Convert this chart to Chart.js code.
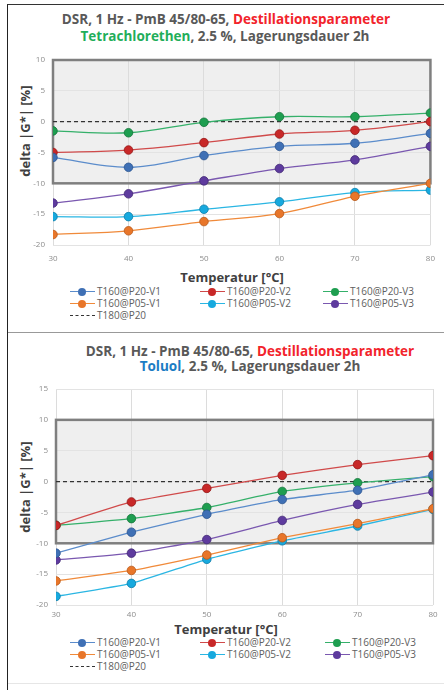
<!DOCTYPE html>
<html>
<head>
<meta charset="utf-8">
<script src="https://cdn.jsdelivr.net/npm/chart.js@4.4.1/dist/chart.umd.min.js"></script>
<style>
  body { margin: 0; background: #fff; font-family: "Open Sans", sans-serif; }
  #page { position: relative; width: 444px; height: 690px; overflow: hidden; }
  .frame { position: absolute; left: 7px; top: 4px; width: 440px; height: 690px;
           border-left: 1.5px solid #222; border-top: 1.5px solid #333; }
  .sep { position: absolute; left: 8px; width: 436px; height: 0; }
  .title { position: absolute; font-weight: bold; font-size: 13.5px; color: #595959;
           white-space: nowrap; transform: translateX(-50%); line-height: 16px; }
  .red { color: #f2232b; }
  .green { color: #1fae5a; }
  .blue { color: #1b7cc4; }
  .ytitle { position: absolute; font-weight: bold; font-size: 13px; color: #404040;
            white-space: nowrap; transform: translate(-50%, -50%) rotate(-90deg); }
  .xtitle { position: absolute; font-weight: bold; font-size: 13px; color: #404040;
            white-space: nowrap; transform: translate(-50%, -50%); }
  canvas { position: absolute; }
  .leg { position: absolute; font-size: 10px; color: #606060; white-space: nowrap;
         line-height: 12px; }
  .leg .mk { position: absolute; top: 5px; width: 25px; height: 0; border-top: 1px solid; }
  .leg .dot { position: absolute; left: 8px; top: -4.5px; width: 8px; height: 8px; border-radius: 50%; }
  .leg .txt { position: absolute; left: 27px; top: -1px; }
</style>
</head>
<body>
<div id="page">
  <div class="frame"></div>
  <div class="sep" style="top:332px;border-top:1.5px solid #999;"></div>
  <div class="sep" style="top:683px;border-top:1px solid #e6e6e6;"></div>

  <div class="title" style="left:226px;top:11px;">DSR, 1 Hz - PmB 45/80-65, <span class="red">Destillationsparameter</span></div>
  <div class="title" style="left:225px;top:28px;"><span class="green">Tetrachlorethen</span>, 2.5 %, Lagerungsdauer 2h</div>
  <div class="ytitle" style="left:25px;top:131px;">delta |G*| [%]</div>
  <div class="xtitle" style="left:232px;top:277px;">Temperatur [°C]</div>
  <canvas id="c1" width="436" height="222" style="left:8px;top:44px;"></canvas>
  <div id="leg1"></div>

  <div class="title" style="left:250px;top:343px;">DSR, 1 Hz - PmB 45/80-65, <span class="red">Destillationsparameter</span></div>
  <div class="title" style="left:250px;top:358px;"><span class="blue">Toluol</span>, 2.5 %, Lagerungsdauer 2h</div>
  <div class="ytitle" style="left:25px;top:487px;">delta |G*| [%]</div>
  <div class="xtitle" style="left:226px;top:629px;">Temperatur [°C]</div>
  <canvas id="c2" width="436" height="248" style="left:8px;top:372px;"></canvas>
  <div id="leg2"></div>
</div>

<script>
const temperaturen = [30, 40, 50, 60, 70, 80];
const serienNamen = ['T160@P20-V1', 'T160@P20-V2', 'T160@P20-V3', 'T160@P05-V1', 'T160@P05-V2', 'T160@P05-V3'];
const referenzName = 'T180@P20';
const referenzWerte = [0, 0, 0, 0, 0, 0];

// Tetrachlorethen
const tetra_P20_V1 = [-5.8, -7.4, -5.5, -4.0, -3.5, -1.9];
const tetra_P20_V2 = [-5.0, -4.6, -3.4, -2.0, -1.4, 0.0];
const tetra_P20_V3 = [-1.5, -1.8, -0.1, 0.8, 0.8, 1.4];
const tetra_P05_V1 = [-18.3, -17.7, -16.2, -14.9, -12.1, -10.0];
const tetra_P05_V2 = [-15.4, -15.4, -14.2, -13.0, -11.5, -11.1];
const tetra_P05_V3 = [-13.2, -11.7, -9.6, -7.6, -6.2, -4.0];

// Toluol
const tol_P20_V1 = [-11.6, -8.2, -5.3, -2.9, -1.4, 1.1];
const tol_P20_V2 = [-7.1, -3.3, -1.1, 1.0, 2.75, 4.2];
const tol_P20_V3 = [-7.1, -6.0, -4.2, -1.6, -0.2, 0.8];
const tol_P05_V1 = [-16.1, -14.4, -11.9, -9.1, -6.8, -4.4];
const tol_P05_V2 = [-18.6, -16.5, -12.6, -9.6, -7.2, -4.5];
const tol_P05_V3 = [-12.7, -11.6, -9.4, -6.3, -3.7, -1.7];

const yTicks1 = [-20, 10];
const yTicks2 = [-20, 15];
const boxBereich = [-10, 10];

const linienFarben = ['#5b8ccb', '#d04a4a', '#35b06a', '#f08a3a', '#2bb6e3', '#7a58b0'];
const punktFarben = ['#3f70b5', '#c82828', '#1e9e50', '#e8762a', '#17a9de', '#5e3b9e'];
const punktRand = ['#2c5590', '#961818', '#14733a', '#b85818', '#0f7ea8', '#432a75'];

function datensaetze(reihen, tension) {
    const ds = reihen.map((werte, i) => ({
        label: serienNamen[i],
        data: werte.map((v, k) => ({ x: temperaturen[k], y: v })),
        borderColor: linienFarben[i],
        borderWidth: 1.3,
        backgroundColor: punktFarben[i],
        pointBorderColor: punktRand[i],
        pointBorderWidth: 0.8,
        pointRadius: 4.3,
        tension: tension,
        order: 1
    }));
    ds.push({
        label: referenzName,
        data: referenzWerte.map((v, k) => ({ x: temperaturen[k], y: v })),
        borderColor: '#333',
        borderWidth: 1.2,
        borderDash: [4, 3],
        pointRadius: 0,
        order: 2
    });
    return ds;
}

const boxPlugin = {
    id: 'graueBox',
    beforeDraw(chart) {
        const { ctx, scales: { x, y } } = chart;
        ctx.save();
        ctx.fillStyle = '#efefef';
        ctx.fillRect(x.getPixelForValue(30), y.getPixelForValue(boxBereich[1]),
            x.getPixelForValue(80) - x.getPixelForValue(30),
            y.getPixelForValue(boxBereich[0]) - y.getPixelForValue(boxBereich[1]));
        ctx.restore();
    },
    beforeDatasetsDraw(chart) {
        const { ctx, scales: { x, y } } = chart;
        ctx.save();
        ctx.strokeStyle = '#7f7f7f';
        ctx.lineWidth = 2.5;
        ctx.strokeRect(x.getPixelForValue(30), y.getPixelForValue(boxBereich[1]),
            x.getPixelForValue(80) - x.getPixelForValue(30),
            y.getPixelForValue(boxBereich[0]) - y.getPixelForValue(boxBereich[1]));
        ctx.restore();
    }
};

function zeichne(id, reihen, yRange, opts) {
    const ctx = document.getElementById(id).getContext('2d');
    return new Chart(ctx, {
        type: 'line',
        data: { datasets: datensaetze(reihen, opts.tension) },
        options: {
            responsive: false,
            animation: false,
            layout: { padding: { top: opts.padTop, right: 11, left: 0, bottom: 0 } },
            plugins: { legend: { display: false }, tooltip: { enabled: false } },
            scales: {
                x: {
                    type: 'linear', min: 30, max: 80,
                    ticks: { stepSize: 10, color: '#8c8c8c', font: { size: 8, family: 'Open Sans' }, padding: opts.xPad },
                    grid: { color: '#dcdcdc', drawTicks: false },
                    border: { display: false },
                    afterFit(s) { s.height = opts.xHeight; }
                },
                y: {
                    min: yRange[0], max: yRange[1],
                    ticks: { stepSize: 5, color: '#8c8c8c', font: { size: 8, family: 'Open Sans' }, padding: 8 },
                    grid: { color: '#e3e3e3', drawTicks: false },
                    border: { display: false },
                    afterFit(s) { s.width = opts.yWidth; }
                }
            }
        },
        plugins: [boxPlugin]
    });
}

function legende(id, top, spalten) {
    const el = document.getElementById(id);
    let html = '';
    serienNamen.forEach((name, i) => {
        const row = Math.floor(i / 3), col = i % 3;
        html += '<div class="leg" style="left:' + spalten[col] + 'px;top:' + (top + row * 12) + 'px;">' +
            '<span class="mk" style="border-color:' + linienFarben[i] + '"><span class="dot" style="background:' + punktFarben[i] + '"></span></span>' +
            '<span class="txt">' + name + '</span></div>';
    });
    html += '<div class="leg" style="left:' + spalten[0] + 'px;top:' + (top + 24) + 'px;">' +
        '<span class="mk" style="border-top:1.3px dashed #333;"></span><span class="txt">' + referenzName + '</span></div>';
    el.innerHTML = html;
}

zeichne('c1', [tetra_P20_V1, tetra_P20_V2, tetra_P20_V3, tetra_P05_V1, tetra_P05_V2, tetra_P05_V3], yTicks1,
    { tension: 0.35, padTop: 16, yWidth: 45, xHeight: 21, xPad: 9 });
zeichne('c2', [tol_P20_V1, tol_P20_V2, tol_P20_V3, tol_P05_V1, tol_P05_V2, tol_P05_V3], yTicks2,
    { tension: 0.15, padTop: 17, yWidth: 48, xHeight: 15, xPad: 5 });

legende('leg1', 286, [70, 200, 323]);
legende('leg2', 637, [70, 200, 325]);
</script>
</body>
</html>
